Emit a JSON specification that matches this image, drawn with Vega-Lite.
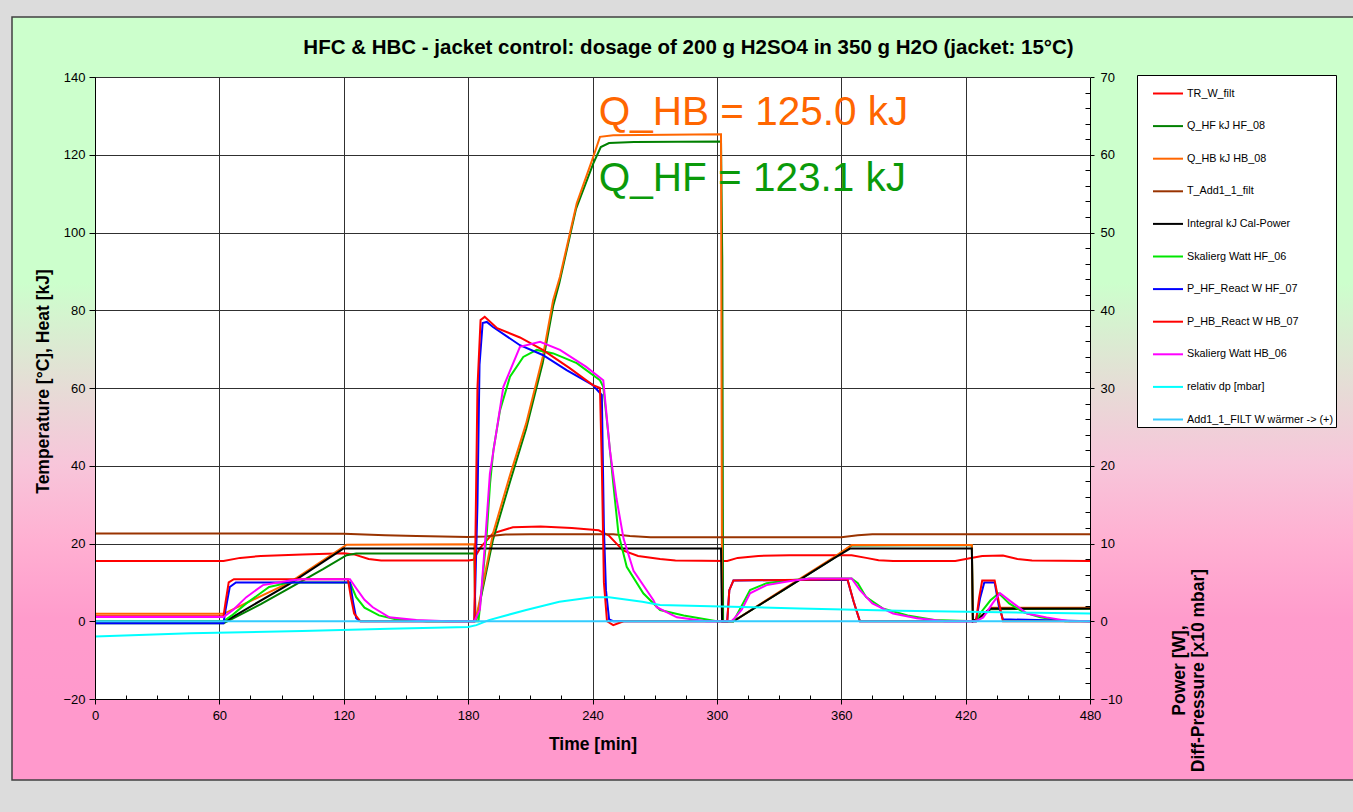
{
  "$schema": "https://vega.github.io/schema/vega-lite/v6.json",
  "width": 995,
  "height": 622,
  "autosize": {"type": "none"},
  "padding": {"left": 95, "top": 77, "right": 263, "bottom": 113},
  "background": "#dcdcdc",
  "title": {
    "text": "HFC & HBC - jacket control: dosage of 200 g H2SO4 in 350 g H2O (jacket: 15°C)",
    "font": "Liberation Sans", "fontSize": 20.5, "fontWeight": "bold", "color": "#000000",
    "anchor": "middle", "frame": "group", "dx": 96, "baseline": "bottom", "offset": -62
  },
  "config": {
    "view": {"fill": "#ffffff", "stroke": "#000000", "strokeWidth": 1},
    "font": "Liberation Sans",
    "axis": {
      "domainColor": "#000000", "tickColor": "#000000", "labelColor": "#000000", "titleColor": "#000000",
      "labelFont": "Liberation Sans", "titleFont": "Liberation Sans", "labelFontSize": 13,
      "titleFontSize": 17.5, "titleFontWeight": "bold", "gridColor": "#303030", "gridOpacity": 1,
      "labelFlush": false, "labelOverlap": false
    }
  },
  "datasets": {
    "blank": [{}],
    "notes": [
      {"t": 243, "value": 127.6, "series": "Q_HB", "label": "Q_HB = 125.0 kJ"},
      {"t": 243, "value": 110.7, "series": "Q_HF", "label": "Q_HF = 123.1 kJ"}
    ],
    "temp": [
      {"t":0,"series":"TR_W_filt","value":15.5},{"t":62,"series":"TR_W_filt","value":15.5},{"t":70,"series":"TR_W_filt","value":16.3},{"t":80,"series":"TR_W_filt","value":16.8},{"t":100,"series":"TR_W_filt","value":17.2},{"t":120,"series":"TR_W_filt","value":17.5},{"t":125,"series":"TR_W_filt","value":17.2},{"t":132,"series":"TR_W_filt","value":16.0},{"t":138,"series":"TR_W_filt","value":15.6},{"t":180,"series":"TR_W_filt","value":15.6},{"t":182.5,"series":"TR_W_filt","value":15.8},{"t":186,"series":"TR_W_filt","value":19.0},{"t":192,"series":"TR_W_filt","value":22.6},{"t":201.6,"series":"TR_W_filt","value":24.2},{"t":215,"series":"TR_W_filt","value":24.4},{"t":230,"series":"TR_W_filt","value":24.0},{"t":243,"series":"TR_W_filt","value":23.4},{"t":248,"series":"TR_W_filt","value":22.0},{"t":254.7,"series":"TR_W_filt","value":18.2},{"t":262,"series":"TR_W_filt","value":16.8},{"t":272.6,"series":"TR_W_filt","value":16.0},{"t":280,"series":"TR_W_filt","value":15.6},{"t":305,"series":"TR_W_filt","value":15.5},{"t":310,"series":"TR_W_filt","value":16.3},{"t":320,"series":"TR_W_filt","value":16.8},{"t":335,"series":"TR_W_filt","value":17.0},{"t":365,"series":"TR_W_filt","value":17.0},{"t":372,"series":"TR_W_filt","value":16.3},{"t":378,"series":"TR_W_filt","value":15.7},{"t":385,"series":"TR_W_filt","value":15.5},{"t":415,"series":"TR_W_filt","value":15.5},{"t":422,"series":"TR_W_filt","value":16.2},{"t":428,"series":"TR_W_filt","value":16.8},{"t":438,"series":"TR_W_filt","value":16.9},{"t":445,"series":"TR_W_filt","value":16.0},{"t":452,"series":"TR_W_filt","value":15.6},{"t":480,"series":"TR_W_filt","value":15.5},

      {"t":0,"series":"Q_HF kJ HF_08","value":-0.5},{"t":62,"series":"Q_HF kJ HF_08","value":-0.5},{"t":65,"series":"Q_HF kJ HF_08","value":0.3},{"t":80,"series":"Q_HF kJ HF_08","value":4.4},{"t":94,"series":"Q_HF kJ HF_08","value":8.6},{"t":110,"series":"Q_HF kJ HF_08","value":13.4},{"t":121.4,"series":"Q_HF kJ HF_08","value":17.0},{"t":126,"series":"Q_HF kJ HF_08","value":17.4},{"t":183,"series":"Q_HF kJ HF_08","value":17.4},{"t":183.5,"series":"Q_HF kJ HF_08","value":0},{"t":184,"series":"Q_HF kJ HF_08","value":0.5},{"t":192,"series":"Q_HF kJ HF_08","value":21},{"t":200,"series":"Q_HF kJ HF_08","value":35.5},{"t":208,"series":"Q_HF kJ HF_08","value":49.5},{"t":216,"series":"Q_HF kJ HF_08","value":66.5},{"t":221,"series":"Q_HF kJ HF_08","value":81},{"t":224,"series":"Q_HF kJ HF_08","value":87},{"t":232,"series":"Q_HF kJ HF_08","value":106},{"t":240.4,"series":"Q_HF kJ HF_08","value":117.8},{"t":244,"series":"Q_HF kJ HF_08","value":122},{"t":248,"series":"Q_HF kJ HF_08","value":123},{"t":260,"series":"Q_HF kJ HF_08","value":123.3},{"t":302,"series":"Q_HF kJ HF_08","value":123.4},{"t":302.6,"series":"Q_HF kJ HF_08","value":93},{"t":303,"series":"Q_HF kJ HF_08","value":0},{"t":308,"series":"Q_HF kJ HF_08","value":0},{"t":332,"series":"Q_HF kJ HF_08","value":8},{"t":356,"series":"Q_HF kJ HF_08","value":16.1},{"t":365,"series":"Q_HF kJ HF_08","value":19.5},{"t":423,"series":"Q_HF kJ HF_08","value":19.6},{"t":423.5,"series":"Q_HF kJ HF_08","value":0},{"t":427,"series":"Q_HF kJ HF_08","value":0.8},{"t":432,"series":"Q_HF kJ HF_08","value":3.1},{"t":480,"series":"Q_HF kJ HF_08","value":3.2},

      {"t":0,"series":"Q_HB kJ HB_08","value":1.9},{"t":62,"series":"Q_HB kJ HB_08","value":1.9},{"t":94,"series":"Q_HB kJ HB_08","value":10.0},{"t":121.4,"series":"Q_HB kJ HB_08","value":19.7},{"t":183,"series":"Q_HB kJ HB_08","value":19.8},{"t":183.5,"series":"Q_HB kJ HB_08","value":0},{"t":184,"series":"Q_HB kJ HB_08","value":1.1},{"t":192,"series":"Q_HB kJ HB_08","value":22.6},{"t":200,"series":"Q_HB kJ HB_08","value":37.2},{"t":208,"series":"Q_HB kJ HB_08","value":50.9},{"t":216,"series":"Q_HB kJ HB_08","value":68},{"t":221,"series":"Q_HB kJ HB_08","value":82.6},{"t":224.3,"series":"Q_HB kJ HB_08","value":88.6},{"t":232.4,"series":"Q_HB kJ HB_08","value":107.5},{"t":240.4,"series":"Q_HB kJ HB_08","value":119.5},{"t":243.6,"series":"Q_HB kJ HB_08","value":124.6},{"t":250,"series":"Q_HB kJ HB_08","value":125},{"t":302,"series":"Q_HB kJ HB_08","value":125.3},{"t":302.5,"series":"Q_HB kJ HB_08","value":0},{"t":308,"series":"Q_HB kJ HB_08","value":0},{"t":332,"series":"Q_HB kJ HB_08","value":8.2},{"t":356,"series":"Q_HB kJ HB_08","value":16.3},{"t":365,"series":"Q_HB kJ HB_08","value":19.6},{"t":423,"series":"Q_HB kJ HB_08","value":19.6},{"t":423.5,"series":"Q_HB kJ HB_08","value":0},{"t":427,"series":"Q_HB kJ HB_08","value":1},{"t":432,"series":"Q_HB kJ HB_08","value":3.5},{"t":480,"series":"Q_HB kJ HB_08","value":3.5},

      {"t":0,"series":"T_Add1_1_filt","value":22.6},{"t":60,"series":"T_Add1_1_filt","value":22.6},{"t":120,"series":"T_Add1_1_filt","value":22.5},{"t":140,"series":"T_Add1_1_filt","value":22.1},{"t":155,"series":"T_Add1_1_filt","value":21.9},{"t":180,"series":"T_Add1_1_filt","value":21.7},{"t":188,"series":"T_Add1_1_filt","value":21.8},{"t":198,"series":"T_Add1_1_filt","value":22.3},{"t":210,"series":"T_Add1_1_filt","value":22.4},{"t":250,"series":"T_Add1_1_filt","value":22.4},{"t":258,"series":"T_Add1_1_filt","value":21.9},{"t":268,"series":"T_Add1_1_filt","value":21.6},{"t":360,"series":"T_Add1_1_filt","value":21.6},{"t":368,"series":"T_Add1_1_filt","value":22.1},{"t":375,"series":"T_Add1_1_filt","value":22.4},{"t":480,"series":"T_Add1_1_filt","value":22.4},

      {"t":0,"series":"Integral kJ Cal-Power","value":0},{"t":63,"series":"Integral kJ Cal-Power","value":0},{"t":65.1,"series":"Integral kJ Cal-Power","value":0.7},{"t":94.1,"series":"Integral kJ Cal-Power","value":9.7},{"t":119.8,"series":"Integral kJ Cal-Power","value":18.7},{"t":302,"series":"Integral kJ Cal-Power","value":18.7},{"t":302.5,"series":"Integral kJ Cal-Power","value":0},{"t":308,"series":"Integral kJ Cal-Power","value":0},{"t":332,"series":"Integral kJ Cal-Power","value":8},{"t":356.2,"series":"Integral kJ Cal-Power","value":16.1},{"t":364.2,"series":"Integral kJ Cal-Power","value":18.7},{"t":423,"series":"Integral kJ Cal-Power","value":18.7},{"t":423.5,"series":"Integral kJ Cal-Power","value":0},{"t":427,"series":"Integral kJ Cal-Power","value":1.1},{"t":431.8,"series":"Integral kJ Cal-Power","value":3.3},{"t":480,"series":"Integral kJ Cal-Power","value":3.3}
    ],
    "power": [
      {"t":0,"series":"Skalierg Watt HF_06","value":0},{"t":62,"series":"Skalierg Watt HF_06","value":0},{"t":66,"series":"Skalierg Watt HF_06","value":0.75},{"t":73,"series":"Skalierg Watt HF_06","value":2.3},{"t":84,"series":"Skalierg Watt HF_06","value":4.4},{"t":94,"series":"Skalierg Watt HF_06","value":5.0},{"t":123,"series":"Skalierg Watt HF_06","value":5.0},{"t":126,"series":"Skalierg Watt HF_06","value":3.1},{"t":130,"series":"Skalierg Watt HF_06","value":1.75},{"t":137,"series":"Skalierg Watt HF_06","value":0.75},{"t":145,"series":"Skalierg Watt HF_06","value":0.25},{"t":160,"series":"Skalierg Watt HF_06","value":0},{"t":185,"series":"Skalierg Watt HF_06","value":0},{"t":186.5,"series":"Skalierg Watt HF_06","value":4},{"t":189,"series":"Skalierg Watt HF_06","value":11.3},{"t":190.6,"series":"Skalierg Watt HF_06","value":17.75},{"t":192.2,"series":"Skalierg Watt HF_06","value":22},{"t":195.4,"series":"Skalierg Watt HF_06","value":27.15},{"t":200.2,"series":"Skalierg Watt HF_06","value":31.45},{"t":206.6,"series":"Skalierg Watt HF_06","value":34},{"t":213.1,"series":"Skalierg Watt HF_06","value":34.9},{"t":221.1,"series":"Skalierg Watt HF_06","value":34.45},{"t":232.4,"series":"Skalierg Watt HF_06","value":33.2},{"t":243.6,"series":"Skalierg Watt HF_06","value":31},{"t":245.2,"series":"Skalierg Watt HF_06","value":30.15},{"t":247.6,"series":"Skalierg Watt HF_06","value":24.15},{"t":250,"series":"Skalierg Watt HF_06","value":17.75},{"t":252.5,"series":"Skalierg Watt HF_06","value":11.3},{"t":256.5,"series":"Skalierg Watt HF_06","value":7},{"t":264.5,"series":"Skalierg Watt HF_06","value":3.6},{"t":272.6,"series":"Skalierg Watt HF_06","value":1.45},{"t":284,"series":"Skalierg Watt HF_06","value":0.75},{"t":300,"series":"Skalierg Watt HF_06","value":0},{"t":308,"series":"Skalierg Watt HF_06","value":0},{"t":312,"series":"Skalierg Watt HF_06","value":2},{"t":316,"series":"Skalierg Watt HF_06","value":4},{"t":324,"series":"Skalierg Watt HF_06","value":4.9},{"t":334,"series":"Skalierg Watt HF_06","value":5.25},{"t":345,"series":"Skalierg Watt HF_06","value":5.5},{"t":365,"series":"Skalierg Watt HF_06","value":5.5},{"t":368,"series":"Skalierg Watt HF_06","value":4.9},{"t":372,"series":"Skalierg Watt HF_06","value":3.1},{"t":380,"series":"Skalierg Watt HF_06","value":1.65},{"t":392,"series":"Skalierg Watt HF_06","value":0.75},{"t":405,"series":"Skalierg Watt HF_06","value":0.15},{"t":425,"series":"Skalierg Watt HF_06","value":0},{"t":427,"series":"Skalierg Watt HF_06","value":1},{"t":432,"series":"Skalierg Watt HF_06","value":2.7},{"t":436,"series":"Skalierg Watt HF_06","value":3.6},{"t":441,"series":"Skalierg Watt HF_06","value":2.3},{"t":448,"series":"Skalierg Watt HF_06","value":1.15},{"t":456,"series":"Skalierg Watt HF_06","value":0.5},{"t":468,"series":"Skalierg Watt HF_06","value":0},{"t":480,"series":"Skalierg Watt HF_06","value":0},

      {"t":0,"series":"P_HF_React W HF_07","value":-0.25},{"t":62,"series":"P_HF_React W HF_07","value":-0.25},{"t":63,"series":"P_HF_React W HF_07","value":1.5},{"t":65,"series":"P_HF_React W HF_07","value":4.4},{"t":68,"series":"P_HF_React W HF_07","value":5},{"t":123,"series":"P_HF_React W HF_07","value":5},{"t":124.5,"series":"P_HF_React W HF_07","value":2.5},{"t":126,"series":"P_HF_React W HF_07","value":0.4},{"t":128,"series":"P_HF_React W HF_07","value":0},{"t":183,"series":"P_HF_React W HF_07","value":0},{"t":184.5,"series":"P_HF_React W HF_07","value":15},{"t":185.5,"series":"P_HF_React W HF_07","value":33},{"t":187,"series":"P_HF_React W HF_07","value":38.35},{"t":189,"series":"P_HF_React W HF_07","value":38.5},{"t":192,"series":"P_HF_React W HF_07","value":37.85},{"t":205,"series":"P_HF_React W HF_07","value":35.5},{"t":216,"series":"P_HF_React W HF_07","value":34.25},{"t":227.5,"series":"P_HF_React W HF_07","value":32.3},{"t":240,"series":"P_HF_React W HF_07","value":30.4},{"t":244.5,"series":"P_HF_React W HF_07","value":29.1},{"t":245.5,"series":"P_HF_React W HF_07","value":12},{"t":246.5,"series":"P_HF_React W HF_07","value":4},{"t":248,"series":"P_HF_React W HF_07","value":0.25},{"t":250,"series":"P_HF_React W HF_07","value":0},{"t":305,"series":"P_HF_React W HF_07","value":0},{"t":306,"series":"P_HF_React W HF_07","value":4},{"t":308,"series":"P_HF_React W HF_07","value":5.25},{"t":363,"series":"P_HF_React W HF_07","value":5.35},{"t":366,"series":"P_HF_React W HF_07","value":2.5},{"t":369,"series":"P_HF_React W HF_07","value":0},{"t":425,"series":"P_HF_React W HF_07","value":0},{"t":427,"series":"P_HF_React W HF_07","value":3},{"t":429,"series":"P_HF_React W HF_07","value":5},{"t":434,"series":"P_HF_React W HF_07","value":5},{"t":436,"series":"P_HF_React W HF_07","value":2},{"t":438,"series":"P_HF_React W HF_07","value":0.25},{"t":480,"series":"P_HF_React W HF_07","value":0},

      {"t":0,"series":"P_HB_React W HB_07","value":0.65},{"t":62,"series":"P_HB_React W HB_07","value":0.65},{"t":63,"series":"P_HB_React W HB_07","value":2.5},{"t":64.5,"series":"P_HB_React W HB_07","value":5},{"t":67,"series":"P_HB_React W HB_07","value":5.4},{"t":122,"series":"P_HB_React W HB_07","value":5.4},{"t":123.5,"series":"P_HB_React W HB_07","value":3},{"t":125,"series":"P_HB_React W HB_07","value":1},{"t":128,"series":"P_HB_React W HB_07","value":0},{"t":183,"series":"P_HB_React W HB_07","value":0},{"t":183.5,"series":"P_HB_React W HB_07","value":10},{"t":184.5,"series":"P_HB_React W HB_07","value":30},{"t":186,"series":"P_HB_React W HB_07","value":38.75},{"t":188,"series":"P_HB_React W HB_07","value":39.15},{"t":194,"series":"P_HB_React W HB_07","value":37.7},{"t":205,"series":"P_HB_React W HB_07","value":36.5},{"t":216,"series":"P_HB_React W HB_07","value":34.9},{"t":229,"series":"P_HB_React W HB_07","value":32.55},{"t":240,"series":"P_HB_React W HB_07","value":30.4},{"t":243.6,"series":"P_HB_React W HB_07","value":30},{"t":244.5,"series":"P_HB_React W HB_07","value":20},{"t":245.5,"series":"P_HB_React W HB_07","value":5},{"t":247,"series":"P_HB_React W HB_07","value":0},{"t":250,"series":"P_HB_React W HB_07","value":-0.5},{"t":255,"series":"P_HB_React W HB_07","value":0},{"t":305,"series":"P_HB_React W HB_07","value":0},{"t":306,"series":"P_HB_React W HB_07","value":4},{"t":308,"series":"P_HB_React W HB_07","value":5.25},{"t":363,"series":"P_HB_React W HB_07","value":5.4},{"t":366,"series":"P_HB_React W HB_07","value":2.5},{"t":369,"series":"P_HB_React W HB_07","value":0},{"t":425,"series":"P_HB_React W HB_07","value":0},{"t":426.5,"series":"P_HB_React W HB_07","value":3},{"t":428,"series":"P_HB_React W HB_07","value":5.25},{"t":434,"series":"P_HB_React W HB_07","value":5.25},{"t":436,"series":"P_HB_React W HB_07","value":2.5},{"t":438,"series":"P_HB_React W HB_07","value":0},{"t":480,"series":"P_HB_React W HB_07","value":0},

      {"t":0,"series":"Skalierg Watt HB_06","value":0.55},{"t":62,"series":"Skalierg Watt HB_06","value":0.55},{"t":66.6,"series":"Skalierg Watt HB_06","value":1.45},{"t":73,"series":"Skalierg Watt HB_06","value":3.1},{"t":81,"series":"Skalierg Watt HB_06","value":4.65},{"t":94,"series":"Skalierg Watt HB_06","value":5.25},{"t":100,"series":"Skalierg Watt HB_06","value":5.4},{"t":123,"series":"Skalierg Watt HB_06","value":5.4},{"t":126,"series":"Skalierg Watt HB_06","value":4.25},{"t":130,"series":"Skalierg Watt HB_06","value":2.75},{"t":134,"series":"Skalierg Watt HB_06","value":1.8},{"t":142,"series":"Skalierg Watt HB_06","value":0.5},{"t":155,"series":"Skalierg Watt HB_06","value":0.15},{"t":170,"series":"Skalierg Watt HB_06","value":0},{"t":183,"series":"Skalierg Watt HB_06","value":0},{"t":185.7,"series":"Skalierg Watt HB_06","value":1.5},{"t":188.5,"series":"Skalierg Watt HB_06","value":11.3},{"t":190.5,"series":"Skalierg Watt HB_06","value":19},{"t":197,"series":"Skalierg Watt HB_06","value":30.15},{"t":205,"series":"Skalierg Watt HB_06","value":35.3},{"t":214.7,"series":"Skalierg Watt HB_06","value":35.95},{"t":224.3,"series":"Skalierg Watt HB_06","value":34.9},{"t":236.8,"series":"Skalierg Watt HB_06","value":32.75},{"t":245.2,"series":"Skalierg Watt HB_06","value":31},{"t":248.4,"series":"Skalierg Watt HB_06","value":22},{"t":251.6,"series":"Skalierg Watt HB_06","value":15.75},{"t":255,"series":"Skalierg Watt HB_06","value":10.6},{"t":259.8,"series":"Skalierg Watt HB_06","value":6.5},{"t":269.4,"series":"Skalierg Watt HB_06","value":2.7},{"t":271,"series":"Skalierg Watt HB_06","value":1.8},{"t":280.7,"series":"Skalierg Watt HB_06","value":0.5},{"t":295,"series":"Skalierg Watt HB_06","value":0},{"t":307,"series":"Skalierg Watt HB_06","value":0},{"t":308,"series":"Skalierg Watt HB_06","value":0.25},{"t":312,"series":"Skalierg Watt HB_06","value":1.5},{"t":316,"series":"Skalierg Watt HB_06","value":3.6},{"t":324,"series":"Skalierg Watt HB_06","value":4.65},{"t":337,"series":"Skalierg Watt HB_06","value":5.25},{"t":345,"series":"Skalierg Watt HB_06","value":5.5},{"t":365,"series":"Skalierg Watt HB_06","value":5.5},{"t":369,"series":"Skalierg Watt HB_06","value":4},{"t":375,"series":"Skalierg Watt HB_06","value":2.3},{"t":385,"series":"Skalierg Watt HB_06","value":1},{"t":396.5,"series":"Skalierg Watt HB_06","value":0.4},{"t":410,"series":"Skalierg Watt HB_06","value":0},{"t":425,"series":"Skalierg Watt HB_06","value":0},{"t":428.5,"series":"Skalierg Watt HB_06","value":0.5},{"t":433,"series":"Skalierg Watt HB_06","value":2.3},{"t":436.6,"series":"Skalierg Watt HB_06","value":3.6},{"t":443,"series":"Skalierg Watt HB_06","value":2.3},{"t":449.6,"series":"Skalierg Watt HB_06","value":1},{"t":459,"series":"Skalierg Watt HB_06","value":0.5},{"t":470,"series":"Skalierg Watt HB_06","value":0},{"t":480,"series":"Skalierg Watt HB_06","value":0},

      {"t":0,"series":"relativ dp [mbar]","value":-1.95},{"t":46,"series":"relativ dp [mbar]","value":-1.55},{"t":100,"series":"relativ dp [mbar]","value":-1.25},{"t":142,"series":"relativ dp [mbar]","value":-0.95},{"t":180,"series":"relativ dp [mbar]","value":-0.75},{"t":184,"series":"relativ dp [mbar]","value":-0.5},{"t":190,"series":"relativ dp [mbar]","value":0.15},{"t":208,"series":"relativ dp [mbar]","value":1.45},{"t":224,"series":"relativ dp [mbar]","value":2.5},{"t":240,"series":"relativ dp [mbar]","value":3.1},{"t":248,"series":"relativ dp [mbar]","value":3.1},{"t":264,"series":"relativ dp [mbar]","value":2.5},{"t":272.6,"series":"relativ dp [mbar]","value":2.1},{"t":292,"series":"relativ dp [mbar]","value":1.95},{"t":340,"series":"relativ dp [mbar]","value":1.65},{"t":388,"series":"relativ dp [mbar]","value":1.35},{"t":437,"series":"relativ dp [mbar]","value":1.15},{"t":480,"series":"relativ dp [mbar]","value":1.0},

      {"t":0,"series":"Add1_1_FILT W wärmer -> (+)","value":0},{"t":240,"series":"Add1_1_FILT W wärmer -> (+)","value":0},{"t":480,"series":"Add1_1_FILT W wärmer -> (+)","value":0}
    ]
  },
  "layer": [
    {
      "layer": [
        {
          "data": {"name": "blank"},
          "mark": {"type": "rect", "clip": false, "fill": "#ccffcc", "stroke": null},
          "encoding": {
            "x": {"datum": -40.04, "type": "quantitative", "scale": {"domain": [0, 480]}, "axis": null},
            "x2": {"datum": 606.9},
            "y": {"datum": 155.43, "type": "quantitative", "scale": {"domain": [-20, 140]}, "axis": null},
            "y2": {"datum": 140}
          }
        },
        {
          "data": {"name": "blank"},
          "mark": {"type": "rect", "clip": false, "fill": "#ff99cc", "stroke": null},
          "encoding": {
            "x": {"datum": -40.04, "type": "quantitative", "scale": {"domain": [0, 480]}, "axis": null},
            "x2": {"datum": 606.9},
            "y": {"datum": -20, "type": "quantitative", "scale": {"domain": [-20, 140]}, "axis": null},
            "y2": {"datum": -40.84}
          }
        },
        {
          "data": {"name": "blank"},
          "mark": {"type": "rect", "clip": false, "stroke": null,
            "fill": {"gradient": "linear", "x1": 0, "y1": 0, "x2": 0, "y2": 1, "stops": [
              {"offset": 0, "color": "#ccffcc"}, {"offset": 0.33, "color": "#ccffcc"},
              {"offset": 0.5, "color": "#e6dcd6"}, {"offset": 0.62, "color": "#f7c6da"},
              {"offset": 0.745, "color": "#ffb0d2"}, {"offset": 0.87, "color": "#ff9ccc"},
              {"offset": 1, "color": "#ff99cc"}]}},
          "encoding": {
            "x": {"datum": -40.04, "type": "quantitative", "scale": {"domain": [0, 480]}, "axis": null},
            "x2": {"datum": 0},
            "y": {"datum": 140, "type": "quantitative", "scale": {"domain": [-20, 140]}, "axis": null},
            "y2": {"datum": -20}
          }
        },
        {
          "data": {"name": "blank"},
          "mark": {"type": "rect", "clip": false, "stroke": null,
            "fill": {"gradient": "linear", "x1": 0, "y1": 0, "x2": 0, "y2": 1, "stops": [
              {"offset": 0, "color": "#ccffcc"}, {"offset": 0.33, "color": "#ccffcc"},
              {"offset": 0.5, "color": "#e6dcd6"}, {"offset": 0.62, "color": "#f7c6da"},
              {"offset": 0.745, "color": "#ffb0d2"}, {"offset": 0.87, "color": "#ff9ccc"},
              {"offset": 1, "color": "#ff99cc"}]}},
          "encoding": {
            "x": {"datum": 480, "type": "quantitative", "scale": {"domain": [0, 480]}, "axis": null},
            "x2": {"datum": 606.9},
            "y": {"datum": 140, "type": "quantitative", "scale": {"domain": [-20, 140]}, "axis": null},
            "y2": {"datum": -20}
          }
        },
        {
          "data": {"name": "blank"},
          "mark": {"type": "rect", "clip": false, "fill": null, "stroke": "#404040", "strokeWidth": 1.5},
          "encoding": {
            "x": {"datum": -40.04, "type": "quantitative", "scale": {"domain": [0, 480]}, "axis": null},
            "x2": {"datum": 610},
            "y": {"datum": 155.43, "type": "quantitative", "scale": {"domain": [-20, 140]}, "axis": null},
            "y2": {"datum": -40.84}
          }
        },
        {
          "data": {"name": "temp"},
          "mark": {"type": "line", "opacity": 0},
          "encoding": {
            "x": {"field": "t", "type": "quantitative", "scale": {"domain": [0, 480]},
              "axis": {"orient": "bottom", "values": [60, 120, 180, 240, 300, 360, 420], "grid": true,
                "labels": false, "ticks": false, "domain": false, "title": null, "zindex": 0}},
            "y": {"field": "value", "type": "quantitative", "scale": {"domain": [-20, 140]},
              "axis": {"orient": "left", "values": [0, 20, 40, 60, 80, 100, 120, 140], "grid": true,
                "labels": false, "ticks": false, "domain": false, "title": null, "zindex": 0}}
          }
        },
        {
          "data": {"name": "temp"},
          "mark": {"type": "line", "strokeWidth": 2, "clip": true},
          "encoding": {
            "x": {"field": "t", "type": "quantitative", "scale": {"domain": [0, 480]},
              "axis": {"orient": "bottom", "values": [0, 60, 120, 180, 240, 300, 360, 420, 480], "grid": false, "tickSize": 5,
                "labelPadding": 5, "title": "Time [min]", "titlePadding": 13, "zindex": 1}},
            "y": {"field": "value", "type": "quantitative", "scale": {"domain": [-20, 140]},
              "axis": {"orient": "left", "values": [-20, 0, 20, 40, 60, 80, 100, 120, 140], "grid": false, "tickSize": 6,
                "labelPadding": 4, "title": "Temperature [°C], Heat [kJ]", "titleAngle": -90,
                "titleX": -52, "titleY": 304, "titleAlign": "center", "titleBaseline": "middle", "zindex": 1}},
            "color": {"field": "series", "type": "nominal",
              "scale": {
                "domain": ["TR_W_filt", "Q_HF kJ HF_08", "Q_HB kJ HB_08", "T_Add1_1_filt", "Integral kJ Cal-Power", "Skalierg Watt HF_06", "P_HF_React W HF_07", "P_HB_React W HB_07", "Skalierg Watt HB_06", "relativ dp [mbar]", "Add1_1_FILT W wärmer -> (+)"],
                "range": ["#ff0000", "#008000", "#ff6600", "#993300", "#000000", "#00e600", "#0000ff", "#ff0000", "#ff00ff", "#00ffff", "#33ccff"]
              },
              "legend": {"orient": "none", "legendX": 1042, "legendY": -2, "title": null,
                "fillColor": "#ffffff", "strokeColor": "#000000", "padding": 2.5, "symbolOffset": 12.5,
                "symbolType": "stroke", "symbolSize": 900, "symbolStrokeWidth": 2,
                "labelFont": "Liberation Sans", "labelFontSize": 10.8, "labelColor": "#000000",
                "labelOffset": 3, "rowPadding": 11.6, "labelLimit": 300}}
          }
        },
        {
          "data": {"name": "notes"},
          "mark": {"type": "text", "align": "left", "baseline": "alphabetic", "fontSize": 40.5, "font": "Liberation Sans"},
          "encoding": {
            "x": {"field": "t", "type": "quantitative", "scale": {"domain": [0, 480]}, "axis": null},
            "y": {"field": "value", "type": "quantitative", "scale": {"domain": [-20, 140]}, "axis": null},
            "text": {"field": "label"},
            "color": {"condition": {"test": "datum.series === 'Q_HB'", "value": "#ff6600"}, "value": "#0a9a0a"}
          }
        }
      ],
      "resolve": {"axis": {"x": "independent", "y": "independent"}}
    },
    {
      "layer": [
        {
          "data": {"name": "power"},
          "mark": {"type": "line", "strokeWidth": 2, "clip": true},
          "encoding": {
            "x": {"field": "t", "type": "quantitative", "scale": {"domain": [0, 480]},
              "axis": {"orient": "bottom", "values": [15, 30, 45, 75, 90, 105, 135, 150, 165, 195, 210, 225, 255, 270, 285, 315, 330, 345, 375, 390, 405, 435, 450, 465],
                "labels": false, "domain": false, "grid": false, "title": null, "tickSize": -4, "zindex": 1}},
            "y": {"field": "value", "type": "quantitative", "scale": {"domain": [-10, 70]},
              "axis": {"orient": "right", "values": [-10, 0, 10, 20, 30, 40, 50, 60, 70], "grid": false,
                "tickSize": 4, "labelPadding": 6, "title": ["Power [W],", "Diff-Pressure [x10 mbar]"],
                "titleAngle": -90, "titleX": 89, "titleY": 593, "titleAlign": "center", "titleBaseline": "middle", "zindex": 1}},
            "color": {"field": "series", "type": "nominal",
              "scale": {
                "domain": ["TR_W_filt", "Q_HF kJ HF_08", "Q_HB kJ HB_08", "T_Add1_1_filt", "Integral kJ Cal-Power", "Skalierg Watt HF_06", "P_HF_React W HF_07", "P_HB_React W HB_07", "Skalierg Watt HB_06", "relativ dp [mbar]", "Add1_1_FILT W wärmer -> (+)"],
                "range": ["#ff0000", "#008000", "#ff6600", "#993300", "#000000", "#00e600", "#0000ff", "#ff0000", "#ff00ff", "#00ffff", "#33ccff"]
              },
              "legend": {"orient": "none", "legendX": 1042, "legendY": -2, "title": null,
                "fillColor": "#ffffff", "strokeColor": "#000000", "padding": 2.5, "symbolOffset": 12.5,
                "symbolType": "stroke", "symbolSize": 900, "symbolStrokeWidth": 2,
                "labelFont": "Liberation Sans", "labelFontSize": 10.8, "labelColor": "#000000",
                "labelOffset": 3, "rowPadding": 11.6, "labelLimit": 300}}
          }
        },
        {
          "data": {"name": "power"},
          "mark": {"type": "point", "opacity": 0},
          "encoding": {
            "x": {"field": "t", "type": "quantitative", "scale": {"domain": [0, 480]}, "axis": null},
            "y": {"field": "value", "type": "quantitative", "scale": {"domain": [-10, 70]},
              "axis": {"orient": "right", "values": [-8, -6, -4, -2, 2, 4, 6, 8, 12, 14, 16, 18, 22, 24, 26, 28, 32, 34, 36, 38, 42, 44, 46, 48, 52, 54, 56, 58, 62, 64, 66, 68],
                "labels": false, "domain": false, "grid": false, "title": null, "tickSize": -5, "zindex": 1}}
          }
        }
      ],
      "resolve": {"axis": {"x": "independent", "y": "independent"}}
    }
  ],
  "resolve": {"scale": {"y": "independent"}, "axis": {"x": "independent", "y": "independent"}}
}
